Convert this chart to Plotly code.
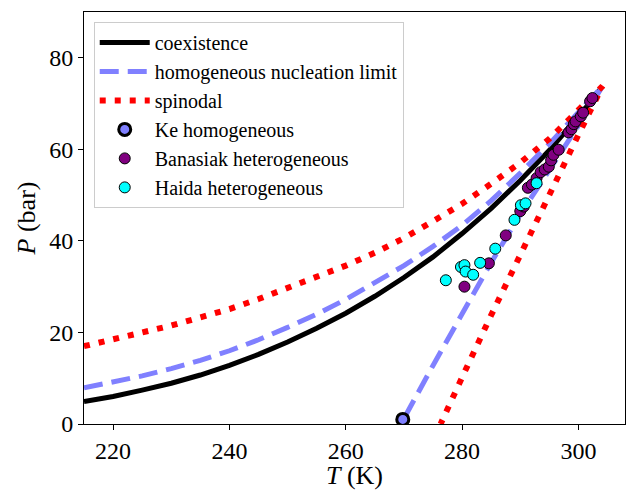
import plotly.graph_objects as go

# Coexistence curve (T in K, P in bar)
coex_T = [215, 220, 225, 230, 235, 240, 245, 250, 255, 260, 265, 270, 275, 280, 285, 290, 295, 300, 302, 304.13]
coex_P = [4.9, 6.0, 7.4, 8.9, 10.7, 12.8, 15.2, 17.9, 20.9, 24.2, 27.9, 32.0, 36.5, 41.6, 47.1, 53.2, 59.8, 67.1, 70.2, 73.8]

# Homogeneous nucleation limit: vapour branch up to the critical point, then liquid branch down
hnl_T = [215, 220, 225, 230, 235, 240, 245, 250, 255, 260, 265, 270, 275, 280, 285, 290, 295, 300, 304.13,
         300, 295, 290, 285, 280, 275, 270, 269.5]
hnl_P = [7.9, 9.1, 10.5, 12.1, 13.9, 16.0, 18.4, 21.1, 24.0, 27.2, 30.8, 34.6, 38.8, 43.4, 48.8, 54.8, 61.2, 68.2, 73.8,
         65.2, 55.7, 45.8, 35.3, 24.3, 12.8, 1.2, 0.0]

# Spinodal: vapour branch up to the critical point, then liquid branch down
spin_T = [215, 220, 225, 230, 235, 240, 245, 250, 255, 260, 265, 270, 275, 280, 285, 290, 295, 300, 304.13,
          300, 295, 290, 285, 280, 276.3]
spin_P = [17.0, 18.4, 19.9, 21.5, 23.3, 25.1, 27.3, 29.7, 32.1, 34.6, 37.4, 40.6, 44.3, 48.1, 52.5, 57.1, 62.3, 68.4, 73.8,
          63.2, 50.3, 37.2, 23.8, 10.2, 0.0]

# Experimental points
ke_T = [269.8]
ke_P = [1.0]

banasiak_T = [280.4, 284.6, 287.5, 290.0, 290.6, 291.3, 292.0, 292.8, 293.5, 294.2, 294.9, 295.3, 295.7,
              296.6, 298.3, 298.8, 299.2, 299.5, 300.4, 300.8, 302.0, 302.4]
banasiak_P = [30.0, 35.1, 41.2, 46.5, 47.5, 51.6, 52.3, 53.7, 55.0, 55.6, 56.2, 57.6, 58.8,
              59.9, 63.7, 64.4, 65.5, 66.1, 67.2, 68.0, 70.5, 71.2]

haida_T = [277.2, 279.8, 280.4, 280.6, 281.9, 283.1, 285.7, 289.0, 290.1, 290.9, 292.8]
haida_P = [31.4, 34.3, 34.7, 33.3, 32.6, 35.2, 38.3, 44.6, 47.8, 48.2, 52.6]

x_ticks = [220, 240, 260, 280, 300]
y_ticks = [0, 20, 40, 60, 80]

FONT = "Liberation Serif"

fig = go.Figure()
fig.add_trace(go.Scatter(x=coex_T, y=coex_P, mode="lines", name="coexistence",
                         line=dict(color="black", width=5)))
fig.add_trace(go.Scatter(x=hnl_T, y=hnl_P, mode="lines", name="homogeneous nucleation limit",
                         line=dict(color="#8080ff", width=5, dash="19px,9px")))
fig.add_trace(go.Scatter(x=spin_T, y=spin_P, mode="lines", name="spinodal",
                         line=dict(color="#ff0000", width=6, dash="6px,9px")))
fig.add_trace(go.Scatter(x=ke_T, y=ke_P, mode="markers", name="Ke homogeneous",
                         marker=dict(color="#7f7fff", size=12, line=dict(color="black", width=3))))
fig.add_trace(go.Scatter(x=banasiak_T, y=banasiak_P, mode="markers", name="Banasiak heterogeneous",
                         marker=dict(color="#800080", size=11, line=dict(color="black", width=1))))
fig.add_trace(go.Scatter(x=haida_T, y=haida_P, mode="markers", name="Haida heterogeneous",
                         marker=dict(color="#00ffff", size=11, line=dict(color="black", width=1))))

axis_common = dict(showgrid=False, zeroline=False, showline=True, linecolor="black", linewidth=1,
                   mirror=True, ticks="outside", ticklen=5, tickwidth=1, tickcolor="black",
                   tickfont=dict(family=FONT, size=24, color="black"))

fig.update_layout(
    width=626, height=490,
    margin=dict(l=84, r=1, t=12, b=66),
    paper_bgcolor="white", plot_bgcolor="white",
    font=dict(family=FONT, color="black"),
    xaxis=dict(range=[215, 308], tickvals=x_ticks, ticktext=[str(v) for v in x_ticks],
               title=dict(text="<i>T</i> (K)", font=dict(family=FONT, size=26), standoff=0),
               **axis_common),
    yaxis=dict(range=[0, 90], tickvals=y_ticks, ticktext=[str(v) for v in y_ticks],
               title=dict(text="<i>P</i> (bar)", font=dict(family=FONT, size=26), standoff=6),
               **axis_common),
    legend=dict(x=0.018, y=0.976, xanchor="left", yanchor="top",
                bgcolor="rgba(255,255,255,0.8)", bordercolor="#cccccc", borderwidth=1,
                font=dict(family=FONT, size=20, color="black"),
                itemwidth=50, tracegroupgap=0),
    showlegend=True,
)

fig.write_html("out.html")
